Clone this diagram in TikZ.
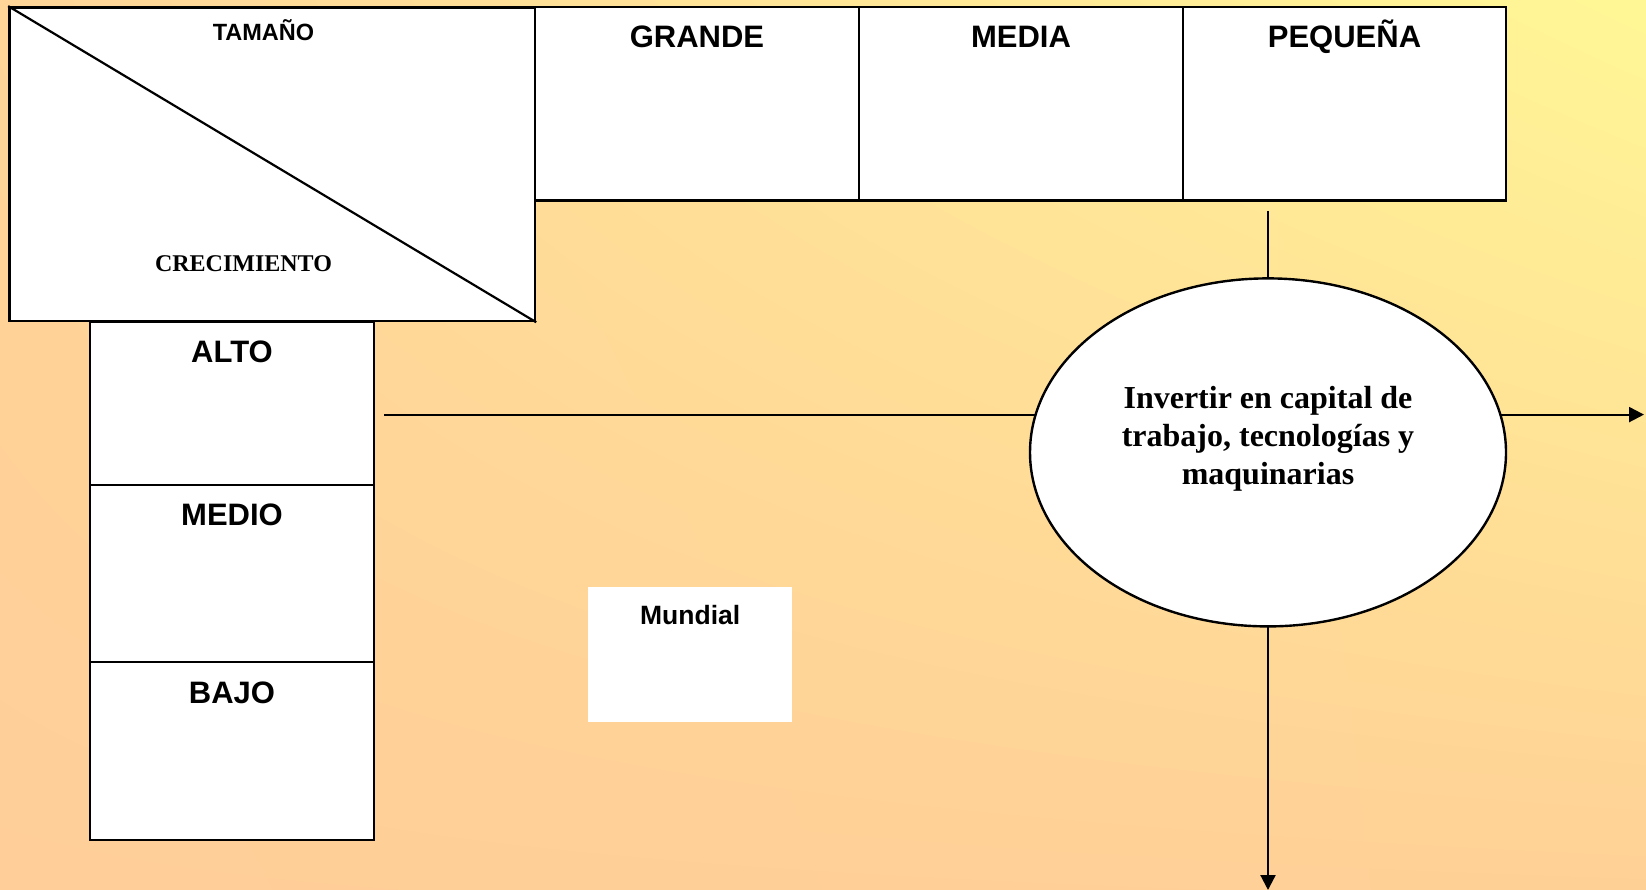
\documentclass[tikz,border=0pt]{standalone}
\usepackage{fontspec}
\setmainfont{Liberation Serif}
\newfontfamily\arialfont{Liberation Sans}
\usetikzlibrary{arrows.meta,shapes.geometric,shadings}

\definecolor{bgUL}{RGB}{255,213,152}
\definecolor{bgUR}{RGB}{255,247,150}
\definecolor{bgLL}{RGB}{255,206,153}
\definecolor{bgLR}{RGB}{255,208,150}

\pgfdeclarelayer{back}
\pgfdeclarelayer{front}
\pgfsetlayers{back,main,front}

\begin{document}
\begin{tikzpicture}[x=1pt,y=-1pt,
  cell/.style={draw=black, line width=2.4pt, fill=white, inner sep=0pt},
  plainbox/.style={fill=white, inner sep=0pt},
  hdr/.style={font=\arialfont\bfseries\fontsize{31}{36}\selectfont, anchor=base, inner sep=0pt},
  smallhdr/.style={font=\arialfont\bfseries\fontsize{23.5}{28}\selectfont, anchor=base, inner sep=0pt},
  serifhdr/.style={font=\bfseries\fontsize{24}{28}\selectfont, anchor=base, inner sep=0pt},
  midhdr/.style={font=\arialfont\bfseries\fontsize{26.5}{30}\selectfont, anchor=base, inner sep=0pt},
  oval/.style={ellipse, draw=black, line width=2.4pt, fill=white, inner sep=0pt,
    minimum width=476pt, minimum height=348pt},
  conn/.style={draw=black, line width=2.2pt},
  arr/.style={conn, -{Triangle[length=15pt,width=15pt]}}]

\useasboundingbox (0,0) rectangle (1646,890);
\begin{pgfonlayer}{back}
\shade[upper left=bgUL, upper right=bgUR, lower left=bgLL, lower right=bgLR]
  (0,0) rectangle (1646,890);
\end{pgfonlayer}

% corner cell with diagonal
\node[cell, minimum width=525.6pt, minimum height=313.7pt] (corner) at (272.2,164.2) {};
\draw[line width=2.2pt] (corner.north west) -- (corner.south east);
\node[smallhdr] (tam) at (263.5,40.5) {TAMAÑO};
\node[serifhdr] (crec) at (243.5,271.5) {CRECIMIENTO};

% size headers
\node[cell, minimum width=324pt, minimum height=193.2pt] (grande) at (697,103.9) {};
\node[cell, minimum width=324pt, minimum height=193.2pt] (media) at (1021,103.9) {};
\node[cell, minimum width=323pt, minimum height=193.2pt] (peq) at (1344.5,103.9) {};
\node[hdr] (tgrande) at (697,48) {GRANDE};
\node[hdr] (tmedia) at (1021,48) {MEDIA};
\node[hdr] (tpeq) at (1344.5,48) {PEQUEÑA};

% growth rows
\node[cell, minimum width=284pt, minimum height=163pt] (alto) at (232,403.5) {};
\node[cell, minimum width=284pt, minimum height=177pt] (medio) at (232,573.5) {};
\node[cell, minimum width=284pt, minimum height=178pt] (bajo) at (232,751) {};
\node[hdr] (talto) at (232,362.5) {ALTO};
\node[hdr] (tmedio) at (232,525.5) {MEDIO};
\node[hdr] (tbajo) at (232,703) {BAJO};

% world box
\node[plainbox, minimum width=204.5pt, minimum height=135pt] (mundo) at (690.2,654.5) {};
\node[midhdr] (tmundo) at (690.2,624) {Mundial};

% strategy ellipse, kept above the connectors that meet it
\begin{pgfonlayer}{front}
\node[oval] (ell) at (1268,452.4) {};
\node[font=\bfseries\fontsize{32}{38.3}\selectfont, align=center, inner sep=0pt]
  (tell) at (1268,439) {Invertir en capital de\\trabajo, tecnologías y\\maquinarias};
\end{pgfonlayer}

% connectors
\coordinate (topend) at (1268,211);
\coordinate (leftend) at (384,414.6);
\coordinate (rightend) at (1644,414.6);
\coordinate (bottomend) at (1268,890);
\draw[conn] (topend) -- (ell.center);
\draw[conn] (leftend) -- (leftend -| ell.center);
\draw[arr] (rightend -| ell.center) -- (rightend);
\draw[arr] (ell.center) -- (bottomend);

\end{tikzpicture}
\end{document}
